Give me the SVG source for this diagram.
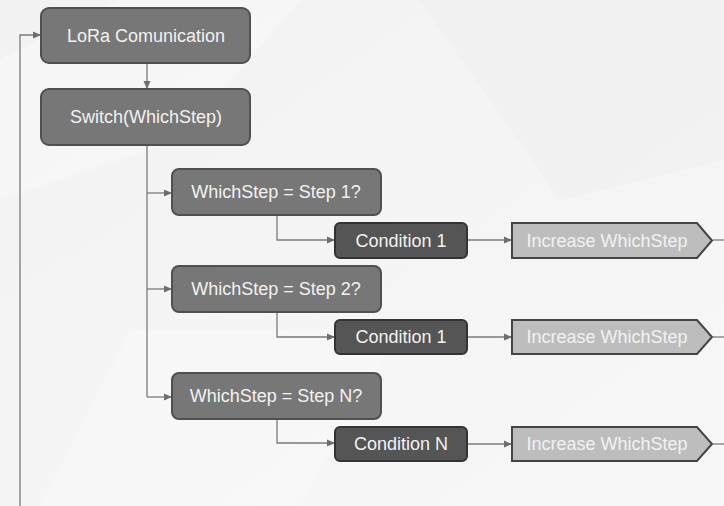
<svg xmlns="http://www.w3.org/2000/svg" width="724" height="506" viewBox="0 0 724 506">
<defs>
<marker id="arr" markerWidth="8" markerHeight="8" refX="7" refY="4" orient="auto" markerUnits="userSpaceOnUse">
<path d="M0,0.5 L8,4 L0,7.5 Z" fill="#6e6e6e"/>
</marker>
<linearGradient id="bg" x1="0" y1="0" x2="1" y2="1">
<stop offset="0" stop-color="#f2f2f2"/>
<stop offset="1" stop-color="#f7f7f7"/>
</linearGradient>
</defs>
<style>
.t{font-family:"Liberation Sans",Arial,sans-serif;font-size:18px;fill:#f2f2f2;text-anchor:middle;dominant-baseline:central}
.main{fill:#777777;stroke:#505050;stroke-width:2}
.cond{fill:#555555;stroke:#333333;stroke-width:2}
.inc{fill:#bdbdbd;stroke:#444444;stroke-width:2}
.c{fill:none;stroke:#7a7a7a;stroke-width:1.3}
</style>
<rect width="724" height="506" fill="url(#bg)"/>
<path d="M0,60 L120,0 L300,0 L180,140 L0,200 Z" fill="#f9f9f9" opacity="0.6"/>
<path d="M420,0 L724,0 L724,160 L560,200 Z" fill="#ededed" opacity="0.5"/>
<path d="M40,506 L130,330 L400,330 L300,506 Z" fill="#f9f9f9" opacity="0.5"/>
<g id="connectors">
<path class="c" d="M20,506 L20,35 L40,35" marker-end="url(#arr)"/>
<path class="c" d="M147,64 L147,88" marker-end="url(#arr)"/>
<path class="c" d="M147,146 L147,397"/>
<path class="c" d="M147,193 L171,193" marker-end="url(#arr)"/>
<path class="c" d="M147,289 L171,289" marker-end="url(#arr)"/>
<path class="c" d="M147,397 L171,397" marker-end="url(#arr)"/>
<path class="c" d="M277,216 L277,240 L334,240" marker-end="url(#arr)"/>
<path class="c" d="M277,313 L277,337 L334,337" marker-end="url(#arr)"/>
<path class="c" d="M277,420 L277,443 L334,443" marker-end="url(#arr)"/>
<path class="c" d="M468,240 L511,240" marker-end="url(#arr)"/>
<path class="c" d="M468,337 L511,337" marker-end="url(#arr)"/>
<path class="c" d="M468,444 L511,444" marker-end="url(#arr)"/>
<path class="c" d="M713,240 L724,240"/>
<path class="c" d="M713,337 L724,337"/>
<path class="c" d="M713,444 L724,444"/>
</g>
<g id="lora"><rect class="main" x="41" y="8" width="209" height="55" rx="8"/><text class="t" x="146" y="35.5">LoRa Comunication</text></g>
<g id="switch"><rect class="main" x="41" y="89" width="209" height="56" rx="8"/><text class="t" x="146" y="117">Switch(WhichStep)</text></g>
<g id="step1"><rect class="main" x="172" y="169" width="209" height="46" rx="7"/><text class="t" x="276" y="192">WhichStep = Step 1?</text></g>
<g id="step2"><rect class="main" x="172" y="266" width="209" height="46" rx="7"/><text class="t" x="276" y="289">WhichStep = Step 2?</text></g>
<g id="stepN"><rect class="main" x="172" y="373" width="209" height="46" rx="7"/><text class="t" x="276" y="396">WhichStep = Step N?</text></g>
<g id="cond1"><rect class="cond" x="335" y="223" width="132" height="35" rx="5"/><text class="t" x="401" y="240.5">Condition 1</text></g>
<g id="cond2"><rect class="cond" x="335" y="320" width="132" height="34" rx="5"/><text class="t" x="401" y="337">Condition 1</text></g>
<g id="condN"><rect class="cond" x="335" y="427" width="132" height="34" rx="5"/><text class="t" x="401" y="444">Condition N</text></g>
<g id="inc1"><path class="inc" d="M512,223 L697,223 L712,240.5 L697,258 L512,258 Z"/><text class="t" x="607" y="240.5">Increase WhichStep</text></g>
<g id="inc2"><path class="inc" d="M512,320 L697,320 L712,337 L697,354 L512,354 Z"/><text class="t" x="607" y="337">Increase WhichStep</text></g>
<g id="incN"><path class="inc" d="M512,427 L697,427 L712,444 L697,461 L512,461 Z"/><text class="t" x="607" y="444">Increase WhichStep</text></g>
</svg>
